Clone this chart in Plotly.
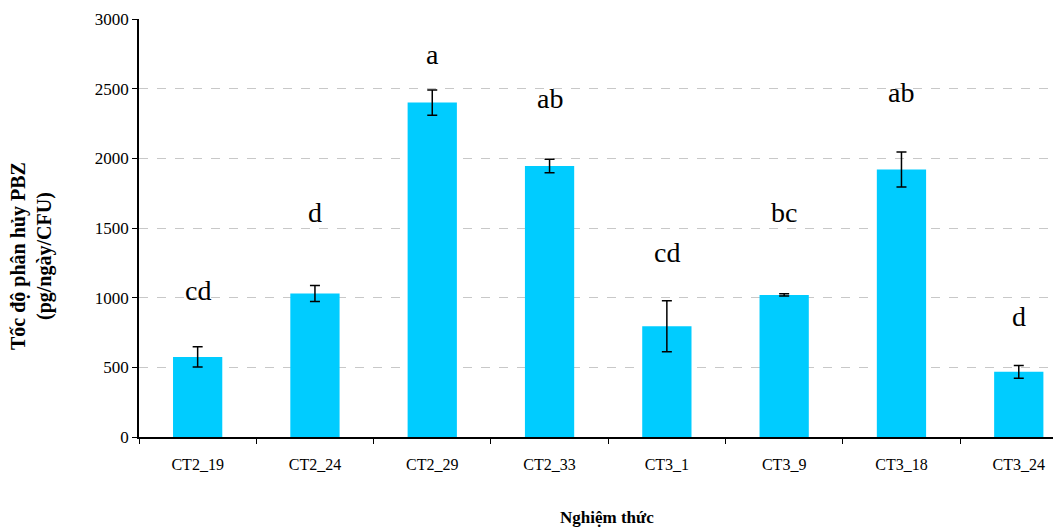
import plotly.graph_objects as go

categories = ["CT2_19", "CT2_24", "CT2_29", "CT2_33", "CT3_1", "CT3_9", "CT3_18", "CT3_24"]
values = [575, 1030, 2400, 1945, 795, 1020, 1920, 468]
errors = [72, 58, 90, 48, 183, 8, 125, 46]
letters = ["cd", "d", "a", "ab", "cd", "bc", "ab", "d"]
letter_y = [1055, 1608, 2742, 2433, 1321, 1608, 2476, 868]

FONT = "Liberation Serif"

fig = go.Figure()
fig.add_trace(go.Bar(
    x=categories, y=values, width=0.42,
    marker=dict(color="#00CCFF", line=dict(width=0)),
    error_y=dict(type="data", array=errors, visible=True, color="black", thickness=1.5, width=5),
))

for c, t, ly in zip(categories, letters, letter_y):
    fig.add_annotation(x=c, y=ly, text=t, showarrow=False,
                       font=dict(family=FONT, size=28, color="black"),
                       xanchor="center", yanchor="middle")

fig.add_annotation(x=0, y=(429 - 248) / 418, xref="paper", yref="paper",
                   xanchor="center", yanchor="middle", xshift=-108,
                   text="<b>Tốc độ phân hủy PBZ<br>(pg/ngày/CFU)</b>", textangle=-90,
                   showarrow=False, font=dict(family=FONT, size=20, color="black"))
fig.add_annotation(x=(599 - 131) / 922, y=-(509 - 429) / 418, xref="paper", yref="paper",
                   xanchor="center", yanchor="middle",
                   text="<b>Nghiệm thức</b>", showarrow=False,
                   font=dict(family=FONT, size=17, color="black"))

fig.update_layout(
    width=1053, height=521,
    margin=dict(l=131, r=0, t=11, b=92, autoexpand=False),
    paper_bgcolor="white", plot_bgcolor="white",
    showlegend=False,
    font=dict(family=FONT, color="black", size=16),
)
fig.update_xaxes(
    range=[-0.5, 7.36], showline=True, linecolor="black", linewidth=1.5,
    ticks="outside", ticklen=5, tickcolor="black", tickson="boundaries",
    ticklabelstandoff=12,
    showgrid=False, tickfont=dict(family=FONT, size=16, color="black"),
    automargin=False,
)
fig.update_yaxes(
    range=[0, 3000], dtick=500, showline=True, linecolor="black", linewidth=1.5,
    ticks="outside", ticklen=5, tickcolor="black",
    showgrid=True, gridcolor="#C8C8C8", griddash="dash", gridwidth=1,
    zeroline=False, tickfont=dict(family=FONT, size=17, color="black"),
    automargin=False,
)

fig.write_html("out.html")
